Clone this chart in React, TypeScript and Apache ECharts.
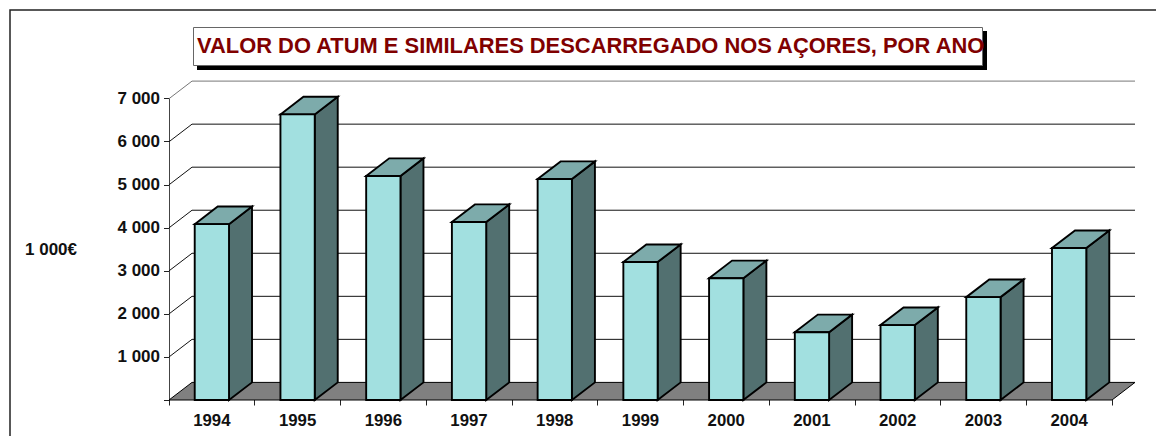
import React, { useEffect, useRef } from "react";
import * as echarts from "echarts";

const years = ["1994", "1995", "1996", "1997", "1998", "1999", "2000", "2001", "2002", "2003", "2004"];
const valores = [4085, 6635, 5205, 4135, 5135, 3205, 2830, 1575, 1740, 2390, 3530];
const gridTicks = [0, 1000, 2000, 3000, 4000, 5000, 6000, 7000];
const titleText = "VALOR DO ATUM E SIMILARES DESCARREGADO NOS AÇORES, POR ANO";
const unitText = "1 000€";

const DX = 23;
const DY = 17.6;
const FONT = "'Liberation Sans', Arial, sans-serif";

export default function App() {
  const ref = useRef<HTMLDivElement>(null);
  useEffect(() => {
    document.body.style.margin = "0";
    document.body.style.background = "#fff";
    const chart = echarts.init(ref.current!, undefined, { renderer: "svg" });
    chart.setOption({
      animation: false,
      backgroundColor: "#ffffff",
      grid: { left: 169, top: 98.7, width: 943, height: 301.3 },
      xAxis: {
        type: "category",
        data: years,
        axisLine: { show: false },
        axisTick: { show: true, length: 5.5, alignWithLabel: false, lineStyle: { color: "#222", width: 1 } },
        axisLabel: { color: "#111", fontFamily: FONT, fontWeight: "bold", fontSize: 16.8, margin: 12 },
      },
      yAxis: {
        type: "value",
        min: 0,
        max: 7000,
        interval: 1000,
        splitLine: { show: false },
        axisLine: { show: true, lineStyle: { color: "#444", width: 1 } },
        axisTick: { show: true, length: 5, lineStyle: { color: "#222", width: 1 } },
        axisLabel: {
          color: "#111",
          fontFamily: FONT,
          fontWeight: "bold",
          fontSize: 17,
          margin: 9,
          formatter: (v: number) => (v === 0 ? "" : String(v).replace(/(\d)(?=(\d{3})$)/, "$1 ")),
        },
      },
      series: [
        {
          type: "custom",
          coordinateSystem: "cartesian2d",
          clip: false,
          z: 1,
          encode: { x: 0, y: 1 },
          data: gridTicks.map((t) => [0, t]),
          renderItem: (params: any, api: any) => {
            const v = api.value(1);
            const y = api.coord([0, v])[1];
            const cs = params.coordSys;
            const x0 = cs.x;
            const x1 = cs.x + cs.width;
            const stroke = v === 7000 ? "#777" : "#111";
            if (v === 0) {
              return {
                type: "polygon",
                shape: { points: [[x0, y], [x0 + DX, y - DY], [x1 + DX, y - DY], [x1, y]] },
                style: { fill: "#808080", stroke: "#000", lineWidth: 1 },
              };
            }
            return {
              type: "polyline",
              shape: { points: [[x0, y], [x0 + DX, y - DY], [x1 + DX, y - DY]] },
              style: { fill: "none", stroke, lineWidth: 1 },
            };
          },
        },
        {
          type: "custom",
          coordinateSystem: "cartesian2d",
          clip: false,
          z: 2,
          encode: { x: 0, y: 1 },
          data: valores.map((v, i) => [i, v]),
          renderItem: (_params: any, api: any) => {
            const top = api.coord([api.value(0), api.value(1)]);
            const base = api.coord([api.value(0), 0]);
            const w = api.size([1, 0])[0] * 0.4;
            const l = top[0] - w / 2;
            const r = top[0] + w / 2;
            const t = top[1];
            const b = base[1];
            const line = { stroke: "#000", lineWidth: 1.9, lineJoin: "miter" };
            return {
              type: "group",
              children: [
                {
                  type: "polygon",
                  shape: { points: [[r, b], [r + DX, b - DY], [r + DX, t - DY], [r, t]] },
                  style: { fill: "#527070", ...line },
                },
                {
                  type: "polygon",
                  shape: { points: [[l, t], [l + DX, t - DY], [r + DX, t - DY], [r, t]] },
                  style: { fill: "#7dabab", ...line },
                },
                {
                  type: "rect",
                  shape: { x: l, y: t, width: w, height: b - t },
                  style: { fill: "#a2e0e0", ...line },
                },
              ],
            };
          },
        },
      ],
      graphic: [
        {
          type: "polyline",
          silent: true,
          shape: { points: [[10, 436], [10, 10], [1156, 10]] },
          style: { fill: "none", stroke: "#222", lineWidth: 1.5 },
        },
        { type: "rect", silent: true, shape: { x: 197, y: 31, width: 790, height: 39 }, style: { fill: "#000" } },
        {
          type: "rect",
          silent: true,
          shape: { x: 193.5, y: 27.5, width: 789, height: 38 },
          style: { fill: "#fff", stroke: "#666", lineWidth: 1 },
        },
        {
          type: "text",
          silent: true,
          x: 197,
          y: 45.5,
          style: {
            text: titleText,
            fill: "#800000",
            font: `bold 21.9px ${FONT}`,
            textAlign: "left",
            textVerticalAlign: "middle",
          },
        },
        {
          type: "text",
          silent: true,
          x: 25,
          y: 249,
          style: {
            text: unitText,
            fill: "#111",
            font: `bold 17px ${FONT}`,
            textAlign: "left",
            textVerticalAlign: "middle",
          },
        },
      ],
    });
    return () => chart.dispose();
  }, []);
  return <div ref={ref} style={{ width: 1156, height: 436 }} />;
}
